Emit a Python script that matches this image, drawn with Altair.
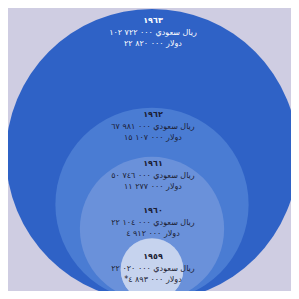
import math
import altair as alt
import pandas as pd

# ---- data ----
years = ["١٩٦٣", "١٩٦٢", "١٩٦١", "١٩٦٠", "١٩٥٩"]
year_keys = [1963, 1962, 1961, 1960, 1959]
riyal_m = [102.722, 67.981, 50.746, 22.104, 22.020]  # million Saudi riyals
riyal_text = [
    "ريال سعودي ٠٠٠ ٧٢٢ ١٠٢",
    "ريال سعودي ٠٠٠ ٩٨١ ٦٧",
    "ريال سعودي ٠٠٠ ٧٤٦ ٥٠",
    "ريال سعودي ٠٠٠ ١٠٤ ٢٢",
    "ريال سعودي ٠٠٠ ٠٢٠ ٢٢",
]
dollar_text = [
    "دولار ٠٠٠ ٨٢٠ ٢٢",
    "دولار ٠٠٠ ١٠٧ ١٥",
    "دولار ٠٠٠ ٢٧٧ ١١",
    "دولار ٠٠٠ ٩١٢ ٤",
    "دولار ٠٠٠ ٨٩٣ ٤*\u200f",
]

# ---- layout / style ----
W = H = 283
R_MAX = 146.0                 # radius in px of largest circle
K = R_MAX / max(riyal_m)      # px per data unit
BASE_Y = 293                  # baseline (circle bottoms), chart px
CX = 144                      # center x, chart px
label_anchor = [196.8, 130.9, 96.2, 63.3, 30.7]  # label y in data units
circle_colors = ["#2f62c6", "#4a7cd3", "#6a91da", "#9db6e6", "#c6d3ee"]
bg = "#cfcde2"
font = "DejaVu Sans"

df = pd.DataFrame({
    "key": year_keys,
    "year": years,
    "riyal": riyal_m,
    "riyal_text": riyal_text,
    "dollar_text": dollar_text,
    "label_y": label_anchor,
})

xscale = alt.Scale(domain=[-CX / K, (W - CX) / K], nice=False, zero=False)
yscale = alt.Scale(domain=[(BASE_Y - H) / K, BASE_Y / K], nice=False, zero=False)

base = alt.Chart(df).transform_calculate(cx="0")

circles = base.mark_point(shape="circle", filled=True, opacity=1, strokeWidth=0, clip=False).encode(
    x=alt.X("cx:Q", scale=xscale, axis=None),
    y=alt.Y("riyal:Q", scale=yscale, axis=None),
    size=alt.Size("riyal:Q", scale=alt.Scale(type="pow", exponent=2, domain=[0, max(riyal_m)],
                                              range=[0, (2 * R_MAX) ** 2]), legend=None),
    color=alt.Color("key:N", scale=alt.Scale(domain=year_keys, range=circle_colors), legend=None),
    order=alt.Order("riyal:Q", sort="descending"),
)

txt_color = alt.condition("datum.key == 1963", alt.value("#ffffff"), alt.value("#1b1d33"))

def text_layer(field, dy, bold=False, size=8):
    return base.mark_text(font=font, fontSize=size, fontWeight="bold" if bold else "normal",
                          dy=dy, dx=1, baseline="middle", align="center").encode(
        x=alt.X("cx:Q", scale=xscale, axis=None),
        y=alt.Y("label_y:Q", scale=yscale, axis=None),
        text=alt.Text(f"{field}:N"),
        color=txt_color,
    )

chart = alt.layer(
    circles,
    text_layer("year", 0, bold=True, size=8),
    text_layer("riyal_text", 12, size=8),
    text_layer("dollar_text", 23, size=8),
).properties(
    width=W, height=H, background=bg, padding=0,
    autosize=alt.AutoSizeParams(type="none"),
).configure_view(stroke=None)

chart.save("out.html", embed_options={"renderer": "svg", "actions": False})
